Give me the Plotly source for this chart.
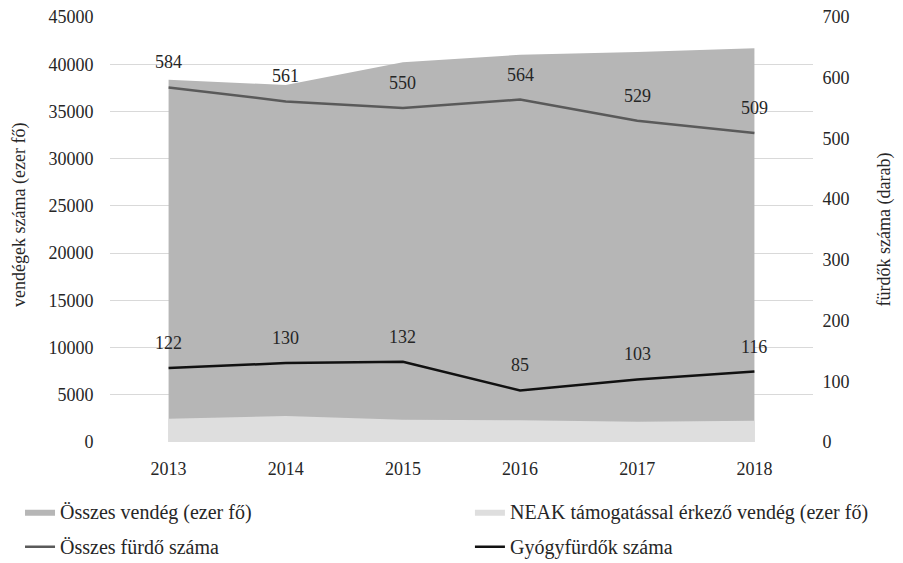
import plotly.graph_objects as go

years = ["2013", "2014", "2015", "2016", "2017", "2018"]
osszes_vendeg = [38350, 37800, 40200, 41000, 41300, 41700]
neak_vendeg = [2450, 2750, 2350, 2300, 2150, 2250]
osszes_furdo = [584, 561, 550, 564, 529, 509]
gyogyfurdo = [122, 130, 132, 85, 103, 116]

FONT = "Liberation Serif"
TXT = "#262626"

fig = go.Figure()
fig.add_trace(go.Scatter(x=years, y=osszes_vendeg, name="Összes vendég (ezer fő)",
                         mode="lines", fill="tozeroy", fillcolor="#b6b6b6",
                         line=dict(width=0, color="#b6b6b6"),
                         legend="legend", legendgroup="a"))
fig.add_trace(go.Scatter(x=years, y=neak_vendeg, name="NEAK támogatással érkező vendég (ezer fő)",
                         mode="lines", fill="tozeroy", fillcolor="#dedede",
                         line=dict(width=0, color="#dedede"),
                         legend="legend2", legendgroup="c"))
fig.add_trace(go.Scatter(x=years, y=osszes_furdo, name="Összes fürdő száma", yaxis="y2",
                         mode="lines", line=dict(color="#5a5a5a", width=2.5),
                         legend="legend", legendgroup="b"))
fig.add_trace(go.Scatter(x=years, y=gyogyfurdo, name="Gyógyfürdők száma", yaxis="y2",
                         mode="lines", line=dict(color="#111111", width=2.5),
                         legend="legend2", legendgroup="d"))

for series in (osszes_furdo, gyogyfurdo):
    for i, v in enumerate(series):
        fig.add_annotation(x=i, y=v, xref="x", yref="y2", text=str(v), showarrow=False,
                           yanchor="middle", yshift=25,
                           font=dict(family=FONT, size=18, color=TXT))

# axis titles
fig.add_annotation(x=-0.1295, y=0.534, xref="paper", yref="paper", text="vendégek száma (ezer fő)",
                   textangle=-90, showarrow=False, xanchor="center", yanchor="middle",
                   font=dict(family=FONT, size=18, color=TXT))
fig.add_annotation(x=1.1024, y=0.5, xref="paper", yref="paper", text="fürdők száma (darab)",
                   textangle=-90, showarrow=False, xanchor="center", yanchor="middle",
                   font=dict(family=FONT, size=18, color=TXT))

legend_style = dict(orientation="v", yanchor="top", y=-0.118, xanchor="left",
                    font=dict(family=FONT, size=20, color=TXT), tracegroupgap=6,
                    itemwidth=30, bgcolor="rgba(0,0,0,0)")

fig.update_layout(
    width=895, height=555,
    margin=dict(l=102, r=90, t=9, b=121, autoexpand=False),
    paper_bgcolor="white", plot_bgcolor="white",
    font=dict(family=FONT, size=18, color=TXT),
    xaxis=dict(type="category", range=[-0.5, 5.5], showgrid=False, showline=False,
               ticks="outside", ticklen=10, tickcolor="rgba(0,0,0,0)",
               tickfont=dict(size=18, color=TXT)),
    yaxis=dict(range=[0, 45000], dtick=5000, tickformat="d", showgrid=True,
               gridcolor="#d9d9d9", gridwidth=1, zeroline=False, showline=False,
               ticks="outside", ticklen=12, tickcolor="rgba(0,0,0,0)",
               ticklabeloverflow="allow",
               tickfont=dict(size=18, color=TXT)),
    yaxis2=dict(range=[0, 700], dtick=100, tickformat="d", overlaying="y", side="right",
                showgrid=False, zeroline=False, showline=False,
                ticks="outside", ticklen=5, tickcolor="rgba(0,0,0,0)",
                ticklabeloverflow="allow",
                tickfont=dict(size=18, color=TXT)),
    legend=dict(x=-0.128, **legend_style),
    legend2=dict(x=0.512, **legend_style),
    showlegend=True,
)

fig.write_html("out.html")
